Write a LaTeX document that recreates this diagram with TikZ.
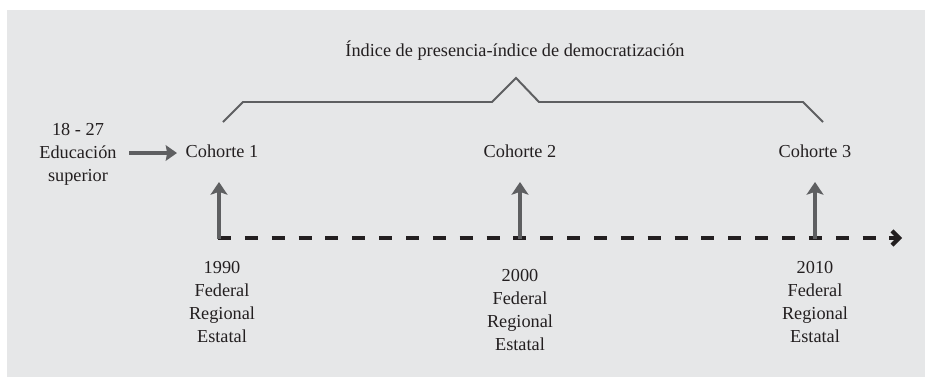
\documentclass[tikz,border=0pt]{standalone}
\usepackage{fontspec}
\setmainfont{Liberation Serif}
\usetikzlibrary{arrows.meta}
\definecolor{panel}{HTML}{E6E7E8}
\definecolor{ink}{HTML}{231F20}
\definecolor{arrgray}{HTML}{5E5F61}

\begin{document}
\begin{tikzpicture}[x=0.025cm, y=-0.025cm, font=\fontsize{13}{16.3}\selectfont,
  txt/.style={align=center, text=ink, inner sep=0pt},
  uparrow/.style={draw=arrgray, line width=2.3pt, -{Stealth[length=9pt,width=12pt,inset=2pt]}},
  timeline/.style={draw=ink, line width=3.5pt, dash pattern=on 9.2pt off 9.9pt, -{Straight Barb[length=5pt,width=10pt,line width=3pt]}},
  brace/.style={draw=arrgray, line width=1.4pt, line join=miter}]
	\useasboundingbox (0,0) rectangle (925,377);
	\fill[panel] (7,10) rectangle (925,377);

	\node[txt] (title) at (515,51) {Índice de presencia-índice de democratización};
	\draw[brace] (223,122) -- (243,102) -- (492,102) -- (516,78) -- (539,102) -- (803,102) -- (823,122);

	\node[txt] (edu) at (78,154) {18 - 27\\Educación\\superior};
	\node[txt] (c1) at (222,151) {Cohorte 1};
	\node[txt] (c2) at (520,151) {Cohorte 2};
	\node[txt] (c3) at (815,151) {Cohorte 3};
	\coordinate (e0) at (129,153);
	\coordinate (e1) at (177,153);
	\draw[draw=arrgray, line width=3pt, -{Stealth[length=8pt,width=11pt,inset=1pt]}] (e0) -- (e1);

	% linea de tiempo
	\coordinate (t0) at (218,238);
	\coordinate (t4) at (902,238);
	\draw[timeline] (t0) -- (t4);

	\coordinate (b1) at (219,239);
	\coordinate (b2) at (520,239);
	\coordinate (b3) at (815,239);
	\draw[uparrow] (b1) -- ++(0,-57);
	\draw[uparrow] (b2) -- ++(0,-57);
	\draw[uparrow] (b3) -- ++(0,-57);

	\node[txt] (y1) at (222,302) {1990\\Federal\\Regional\\Estatal};
	\node[txt] (y2) at (520,310) {2000\\Federal\\Regional\\Estatal};
	\node[txt] (y3) at (815,302) {2010\\Federal\\Regional\\Estatal};
\end{tikzpicture}
\end{document}
